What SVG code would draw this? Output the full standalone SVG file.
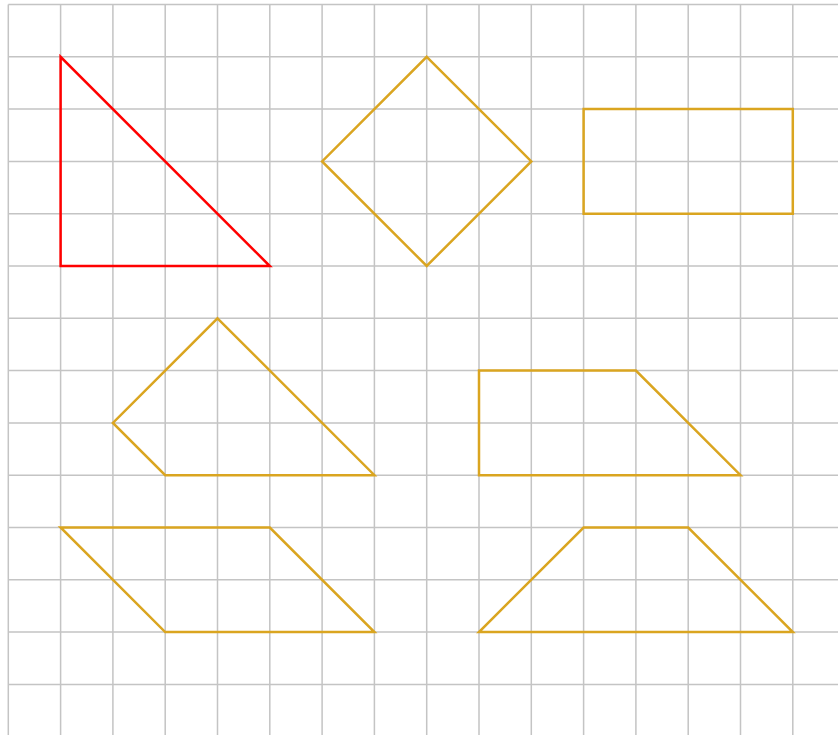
<svg xmlns="http://www.w3.org/2000/svg" width="838" height="735" viewBox="0 0 838 735">
<style>
.g{stroke:#c4c4c4;stroke-width:1.5;fill:none}
.s{fill:none;stroke:#DAA520;stroke-width:2.5;stroke-linejoin:miter}
.r{fill:none;stroke:#FF0000;stroke-width:2.5}
</style>
<rect width="838" height="735" fill="#fff"/>
<g id="grid" class="g">
<path d="M8.3 4.5V735M60.6 4.5V735M112.9 4.5V735M165.2 4.5V735M217.5 4.5V735M269.8 4.5V735M322.1 4.5V735M374.4 4.5V735M426.7 4.5V735M479 4.5V735M531.3 4.5V735M583.6 4.5V735M635.9 4.5V735M688.2 4.5V735M740.5 4.5V735M792.8 4.5V735"/>
<path d="M8.3 4.5H838M8.3 56.8H838M8.3 109.1H838M8.3 161.4H838M8.3 213.7H838M8.3 266H838M8.3 318.3H838M8.3 370.6H838M8.3 422.9H838M8.3 475.2H838M8.3 527.5H838M8.3 579.8H838M8.3 632.1H838M8.3 684.4H838"/>
</g>
<g id="triangle"><polygon class="r" points="60.6,56.8 60.6,266 269.8,266"/></g>
<g id="diamond"><polygon class="s" points="426.7,56.8 531.3,161.4 426.7,266 322.1,161.4"/></g>
<g id="rectangle"><polygon class="s" points="583.6,109.1 792.8,109.1 792.8,213.7 583.6,213.7"/></g>
<g id="kite"><polygon class="s" points="217.5,318.3 374.4,475.2 165.2,475.2 112.9,422.9"/></g>
<g id="right-trapezoid"><polygon class="s" points="479,370.6 635.9,370.6 740.5,475.2 479,475.2"/></g>
<g id="parallelogram"><polygon class="s" points="60.6,527.5 269.8,527.5 374.4,632.1 165.2,632.1"/></g>
<g id="trapezoid"><polygon class="s" points="583.6,527.5 688.2,527.5 792.8,632.1 479,632.1"/></g>
</svg>
